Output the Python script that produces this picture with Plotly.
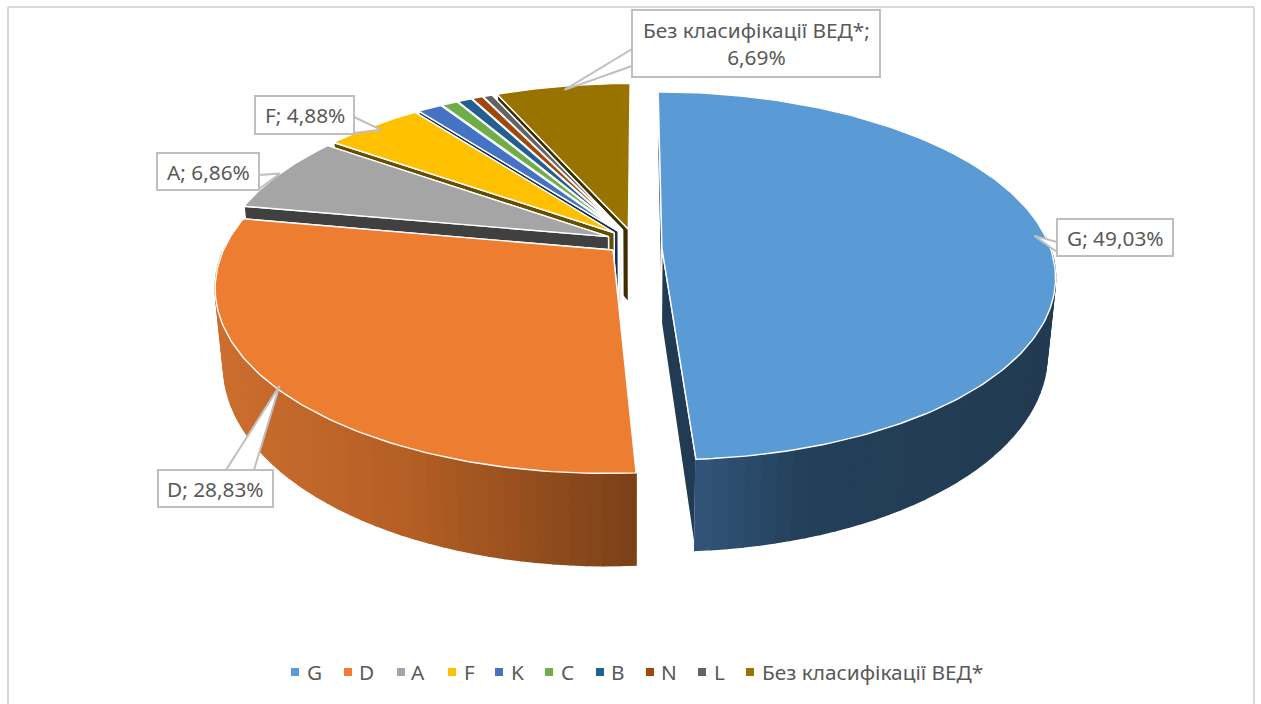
import math
import plotly.graph_objects as go

categories = ["G", "D", "A", "F", "K", "C", "B", "N", "L", "Без класифікації ВЕД*"]
shares = [49.03, 28.83, 6.86, 4.88, 1.20, 0.80, 0.70, 0.55, 0.46, 6.69]
face_colors = ["#5B9BD5", "#ED7D31", "#A5A5A5", "#FFC000", "#4472C4",
               "#70AD47", "#255E91", "#9E480E", "#636363", "#997300"]
wall_colors = ["#203B53", "#5F3214", "#404040", "#664D00", "#1B2E50",
               "#2D4520", "#0F263A", "#3F1D06", "#282828", "#3D2E00"]
label_texts = {"G": "G; 49,03%", "D": "D; 28,83%", "A": "A; 6,86%", "F": "F; 4,88%",
               "Без класифікації ВЕД*": "Без класифікації ВЕД*;<br>6,69%"}

FONT = "Noto Sans"
TEXT = "#595959"
GRID = "#BFBFBF"

# camera of the tilted pie, in page pixels
CX, CY = 634.0, 241.5
A, B = 386.0, 177.5
K, SKEW = 0.189, -1.0
DEPTH, Q = 74.0, 0.98
EXPLODE = 0.072


def project(x, y, low=False):
    w = 1 + K * y
    u = (A * x - SKEW * y) / w
    v = -B * y / w
    if low:
        u *= Q
        v += DEPTH / w
    return CX + u, CY + v


def mix(c1, c2, t):
    t = max(0.0, min(1.0, t))
    a = [int(c1[i:i + 2], 16) for i in (1, 3, 5)]
    b = [int(c2[i:i + 2], 16) for i in (1, 3, 5)]
    return "#" + "".join(f"{round(p + (q - p) * t):02X}" for p, q in zip(a, b))


total = sum(shares)
slices = []
acc = 0.0
for name, val, fc, wc in zip(categories, shares, face_colors, wall_colors):
    start = acc / total * 2 * math.pi
    acc += val
    end = acc / total * 2 * math.pi
    mid = (start + end) / 2
    ox, oy = EXPLODE * math.sin(mid), EXPLODE * math.cos(mid)
    tip = (ox, oy - 0.04) if name == "G" else (ox, oy)
    n = max(3, int((end - start) / math.radians(1.0)))
    angles = [start + (end - start) * i / n for i in range(n + 1)]
    rim = [(ox + math.sin(a), oy + math.cos(a)) for a in angles]
    slices.append(dict(name=name, fc=fc, wc=wc, tip=tip, rim=rim, angles=angles, mid=mid, ox=ox, oy=oy))

fig = go.Figure()


def poly(pts, color, line="#FFFFFF", lw=1.4, name=None):
    fig.add_trace(go.Scatter(x=[p[0] for p in pts] + [pts[0][0]], y=[p[1] for p in pts] + [pts[0][1]],
                             mode="lines", fill="toself", fillcolor=color, name=name,
                             line=dict(color=line, width=lw), showlegend=False, hoverinfo="skip"))


ramps = {"G": [("#31557A", 695), ("#233F59", 810), ("#223B52", 1060)],
         "D": [("#CC6E2E", 215), ("#B55F25", 400), ("#7A4018", 637)]}


def ramp_color(name, x):
    stops = ramps[name]
    for (c1, x1), (c2, x2) in zip(stops, stops[1:]):
        if x <= x2:
            return mix(c1, c2, (x - x1) / (x2 - x1))
    return stops[-1][0]


order = [9, 8, 7, 6, 5, 4, 3, 2, 1, 0]
for idx in order:
    s = slices[idx]
    tx, ty = s["tip"]
    first, last = s["rim"][0], s["rim"][-1]
    # radial walls, the farther one first
    edges = sorted((first, last), key=lambda e: -(e[1] - s["oy"]))
    for edge in edges:
        pts = [project(tx, ty), project(*edge), project(*edge, low=True), project(tx, ty, low=True)]
        poly(pts, s["wc"])
    # outer wall, front half only
    if s["name"] in ramps:
        rim = s["rim"]
        step = 2
        for i in range(0, len(rim) - 1, step):
            j = min(i + step, len(rim) - 1)
            if math.cos(s["angles"][i]) > 0.02 and math.cos(s["angles"][j]) > 0.02:
                continue
            seg = rim[i:j + 1]
            pts = [project(*p) for p in seg] + [project(*p, low=True) for p in reversed(seg)]
            color = ramp_color(s["name"], project(*rim[(i + j) // 2])[0])
            poly(pts, color, line=color, lw=1.5)
    # top face
    poly([project(tx, ty)] + [project(*p) for p in s["rim"]], s["fc"], name=s["name"])

# callouts: box (x0, y0, x1, y1), where the pointer leaves the box, radius of the pointer tip
callouts = {
    "G": ((1057, 219, 1173, 256), [(1057, 242), (1057, 252)], 0.972),
    "D": ((158, 470, 273, 507), [(226, 470), (254, 470)], 0.99),
    "A": ((157, 153, 259, 190), [(259, 175), (259, 189)], 1.0),
    "F": ((255, 96, 354, 134), [(354, 117), (354, 133)], 0.96),
    "Без класифікації ВЕД*": ((632, 10, 880, 77), [(632, 49), (632, 66)], 0.97),
}

shapes = []
annotations = []
for s in slices:
    if s["name"] not in callouts:
        continue
    box, base, r = callouts[s["name"]]
    p = project(s["ox"] + r * math.sin(s["mid"]), s["oy"] + r * math.cos(s["mid"]))
    xs = [base[0][0], p[0], base[1][0]]
    ys = [base[0][1], p[1], base[1][1]]
    fig.add_trace(go.Scatter(x=xs, y=ys, mode="lines", fill="toself", fillcolor="#FFFFFF",
                             line=dict(color=GRID, width=2), showlegend=False, hoverinfo="skip"))
    shapes.append(dict(type="rect", x0=box[0], y0=box[1], x1=box[2], y1=box[3], xref="x", yref="y",
                       fillcolor="#FFFFFF", line=dict(color=GRID, width=2), layer="above"))
    annotations.append(dict(x=(box[0] + box[2]) / 2, y=(box[1] + box[3]) / 2, xref="x", yref="y",
                            text=label_texts[s["name"]], showarrow=False, align="center",
                            font=dict(family=FONT, size=20.8, color=TEXT)))

# legend row
legend_swatch_x = [295, 348, 401, 452, 499, 549, 600, 650, 702, 750]
legend_text_x = [305, 357, 409, 462, 509, 559, 609, 659, 712, 760]
LEGEND_Y = 672
for name, fc, sx, tx in zip(categories, face_colors, legend_swatch_x, legend_text_x):
    fig.add_trace(go.Scatter(x=[sx], y=[LEGEND_Y], mode="markers", name=name, showlegend=False,
                             marker=dict(symbol="square", size=8, color=fc), hoverinfo="skip"))
    annotations.append(dict(x=tx, y=LEGEND_Y, xref="x", yref="y", xanchor="left", text=name, showarrow=False,
                            font=dict(family=FONT, size=20.8, color=TEXT)))

# chart frame
for x0, y0, x1, y1 in [(8, 7, 8, 704), (8, 7, 1254, 7), (1254, 7, 1254, 704)]:
    shapes.append(dict(type="line", x0=x0, y0=y0, x1=x1, y1=y1, xref="x", yref="y",
                       line=dict(color="#D9D9D9", width=2), layer="below"))

fig.update_layout(
    width=1261, height=704, margin=dict(l=0, r=0, t=0, b=0),
    paper_bgcolor="#FFFFFF", plot_bgcolor="#FFFFFF",
    xaxis=dict(range=[0, 1261], visible=False, fixedrange=True),
    yaxis=dict(range=[704, 0], visible=False, fixedrange=True),
    shapes=shapes, annotations=annotations,
    showlegend=False,
)

fig.write_html("out.html", config=dict(displayModeBar=False),
               post_script="document.body.style.margin='0';document.documentElement.style.overflow='hidden';")
